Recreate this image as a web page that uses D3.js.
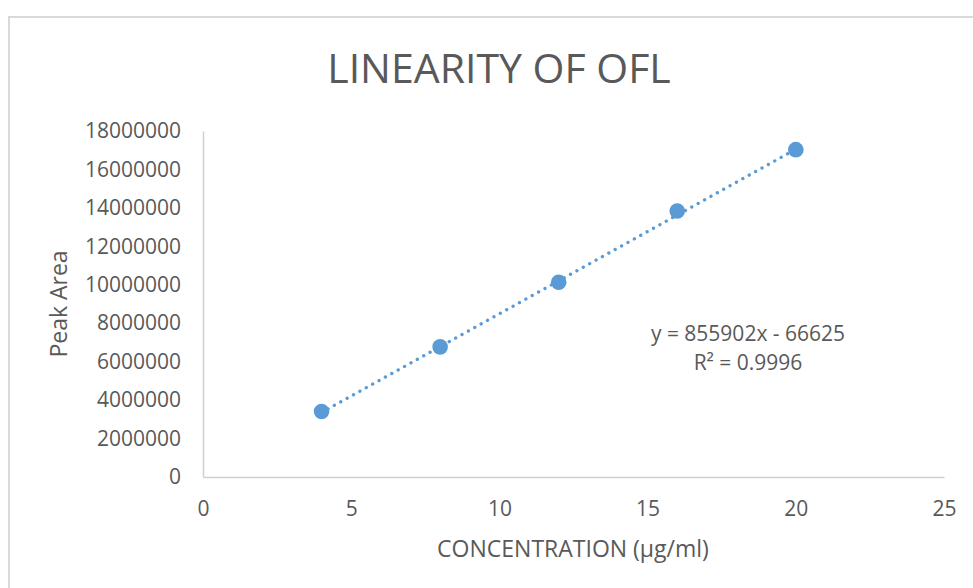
<!DOCTYPE html>
<html>
<head>
<meta charset="utf-8">
<script src="https://cdn.jsdelivr.net/npm/d3@7"></script>
<style>
  body { margin: 0; background: #fff; }
  text { font-family: "Open Sans", sans-serif; fill: #595959; }
</style>
</head>
<body>
<div id="chart"></div>
<script>
// values
var concentration = [4, 8, 12, 16, 20];
var peakArea = [3410000, 6770000, 10130000, 13840000, 17030000];
var xTicks = [0, 5, 10, 15, 20, 25];
var yTicks = [0, 2000000, 4000000, 6000000, 8000000, 10000000, 12000000, 14000000, 16000000, 18000000];
var trendSlope = 855902;
var trendIntercept = -66625;
var r2 = 0.9996;

var width = 973, height = 588;
var margin = {left: 203, right: 29, top: 131, bottom: 111};
var blue = "#5b9bd5";

var svg = d3.select("#chart")
    .append("svg")
    .attr("width", width)
    .attr("height", height);

// chart area border
svg.append("rect")
    .attr("x", 9).attr("y", 17)
    .attr("width", 990).attr("height", 600)
    .attr("fill", "none")
    .attr("stroke", "#d9d9d9")
    .attr("stroke-width", 2);

var x = d3.scaleLinear().domain([0, 25]).range([margin.left, width - margin.right]);
var y = d3.scaleLinear().domain([0, 18000000]).range([height - margin.bottom, margin.top]);

var xAxis = svg.append("g")
    .attr("transform", "translate(0," + y(0) + ")")
    .call(d3.axisBottom(x).tickValues(xTicks).tickSize(0).tickPadding(24));

var yAxis = svg.append("g")
    .attr("transform", "translate(" + x(0) + ",0)")
    .call(d3.axisLeft(y).tickValues(yTicks).tickSize(0).tickPadding(22).tickFormat(d3.format("d")));

[xAxis, yAxis].forEach(function (g) {
    g.select(".domain").attr("stroke", "#d0d0d0").attr("stroke-width", 1.5);
    g.selectAll("text")
        .attr("fill", "#595959")
        .style("font-size", "21px");
});

// title
svg.append("text")
    .attr("x", 499).attr("y", 83)
    .attr("text-anchor", "middle")
    .style("font-size", "41px")
    .text("LINEARITY OF OFL");

// axis titles
svg.append("text")
    .attr("transform", "translate(67," + y(9000000) + ") rotate(-90)")
    .attr("text-anchor", "middle")
    .style("font-size", "23px")
    .text("Peak Area");

svg.append("text")
    .attr("x", 573).attr("y", 557)
    .attr("text-anchor", "middle")
    .style("font-size", "23px")
    .text("CONCENTRATION (\u00b5g/ml)");

// linear trendline
var x0 = d3.min(concentration), x1 = d3.max(concentration);
svg.append("line")
    .attr("x1", x(x0)).attr("y1", y(trendSlope * x0 + trendIntercept))
    .attr("x2", x(x1)).attr("y2", y(trendSlope * x1 + trendIntercept))
    .attr("stroke", blue)
    .attr("stroke-width", 3.3)
    .attr("stroke-linecap", "round")
    .attr("stroke-dasharray", "0.1,7.2");

// points
svg.selectAll(".pt")
    .data(concentration)
    .enter()
    .append("circle")
    .attr("class", "pt")
    .attr("cx", function (d) { return x(d); })
    .attr("cy", function (d, i) { return y(peakArea[i]); })
    .attr("r", 7.8)
    .attr("fill", blue);

// equation label
var eq = svg.append("text")
    .attr("text-anchor", "middle")
    .style("font-size", "21px");
eq.append("tspan").attr("x", 748).attr("y", 341)
    .text("y = " + trendSlope + "x - " + Math.abs(trendIntercept));
eq.append("tspan").attr("x", 748).attr("y", 370)
    .text("R\u00b2 = " + r2);
</script>
</body>
</html>
